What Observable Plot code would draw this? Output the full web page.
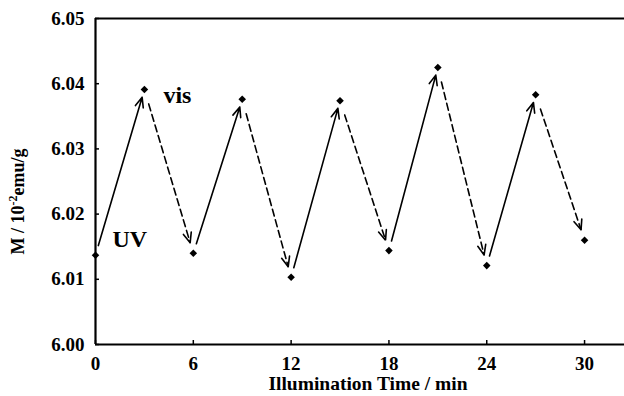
<!DOCTYPE html>
<html><head><meta charset="utf-8">
<script src="https://cdn.jsdelivr.net/npm/d3@7"></script>
<script src="https://cdn.jsdelivr.net/npm/@observablehq/plot@0.6"></script>
<style>
html,body{margin:0;padding:0;background:#fff;}
#chart svg, #chart svg text, #chart svg tspan { font-family: 'Liberation Serif', 'Times New Roman', serif !important; font-weight: bold !important; }
</style>
</head><body><div id="chart"></div>
<script>
// ---- data ----
const times = [0, 3, 6, 9, 12, 15, 18, 21, 24, 27, 30];
const moments = [6.0137, 6.0391, 6.0140, 6.0376, 6.0103, 6.0374, 6.0144, 6.0425, 6.0121, 6.0383, 6.0160];
const xTicks = [0, 6, 12, 18, 24, 30];
const yTicks = [6.00, 6.01, 6.02, 6.03, 6.04, 6.05];
const xLabel = "Illumination Time / min";
const yLabelParts = ["M / 10", "-2", "emu/g"];
const uvLabel = "UV";
const visLabel = "vis";

const points = times.map((t, i) => ({t, m: moments[i]}));
const segments = points.slice(1).map((p, i) => ({t1: points[i].t, m1: points[i].m, t2: p.t, m2: p.m}));
const uvSegs = segments.filter((d, i) => i % 2 === 0);
const visSegs = segments.filter((d, i) => i % 2 === 1);

const font = "'Liberation Serif', 'Times New Roman', serif";

const chart = Plot.plot({
  width: 624, height: 396,
  marginTop: 18, marginBottom: 52, marginLeft: 95, marginRight: 0,
  style: {fontFamily: font, fontWeight: "bold", fontSize: "18px", background: "white", color: "black", overflow: "visible"},
  x: {domain: [0, 32.45]},
  y: {domain: [6.00, 6.05]},
  marks: [
    Plot.axisX(xTicks, {tickSize: -4, tickPadding: 16, label: null, fontSize: 19, fontFamily: font, fontWeight: "bold", strokeWidth: 1.5}),
    Plot.axisY(yTicks, {tickSize: -4, tickPadding: 15, label: null, fontSize: 19, fontFamily: font, fontWeight: "bold", tickFormat: d3.format(".2f"), strokeWidth: 1.5}),
    Plot.ruleX([0], {strokeWidth: 2.2}),
    Plot.ruleY([6.00], {strokeWidth: 2.2}),
    Plot.ruleY([6.05], {strokeWidth: 2.2}),
    Plot.arrow(uvSegs, {x1: "t1", y1: "m1", x2: "t2", y2: "m2", insetStart: 10, insetEnd: 8, headLength: 10, headAngle: 45, strokeWidth: 1.6, stroke: "black"}),
    Plot.arrow(visSegs, {x1: "t1", y1: "m1", x2: "t2", y2: "m2", insetStart: 15, insetEnd: 11, headLength: 10, headAngle: 45, strokeWidth: 1.6, stroke: "black", strokeDasharray: "7,4", className: "dashed-arrows"}),
    Plot.dot(points, {x: "t", y: "m", symbol: "diamond2", r: 3.4, fill: "black", stroke: "none"}),
    Plot.text([points[0]], {x: "t", y: "m", text: () => uvLabel, textAnchor: "start", dx: 17, dy: -16, fontSize: 24, fontFamily: font, fontWeight: "bold"}),
    Plot.text([points[1]], {x: "t", y: "m", text: () => visLabel, textAnchor: "start", dx: 19, dy: 6, fontSize: 24, fontFamily: font, fontWeight: "bold"}),
    Plot.text([xLabel], {frameAnchor: "bottom", textAnchor: "middle", dx: 8, dy: 45, fontSize: 19.5, fontFamily: font, fontWeight: "bold"}),
    Plot.text([yLabelParts.join("")], {frameAnchor: "left", textAnchor: "middle", rotate: -90, dx: -77, dy: 20, fontSize: 18, fontFamily: font, fontWeight: "bold", className: "ylabel"})
  ]
});
document.getElementById("chart").appendChild(chart);

// superscript in y label
const yl = chart.querySelector(".ylabel text");
if (yl) {
  yl.textContent = "";
  const ns = "http://www.w3.org/2000/svg";
  const a = document.createElementNS(ns, "tspan"); a.textContent = yLabelParts[0];
  const b = document.createElementNS(ns, "tspan"); b.textContent = yLabelParts[1];
  b.setAttribute("dy", "-7"); b.setAttribute("font-size", "12");
  const c = document.createElementNS(ns, "tspan"); c.textContent = yLabelParts[2];
  c.setAttribute("dy", "7");
  yl.append(a, b, c);
}
// solid heads on dashed arrows
chart.querySelectorAll(".dashed-arrows path").forEach(p => {
  const d = p.getAttribute("d");
  const k = d.indexOf("M", 1);
  if (k > 0) {
    p.setAttribute("d", d.slice(0, k));
    const h = p.cloneNode(false);
    h.setAttribute("d", d.slice(k));
    h.setAttribute("stroke-dasharray", "none");
    h.style.strokeDasharray = "none";
    p.parentNode.appendChild(h);
  }
});
</script>
</body></html>
